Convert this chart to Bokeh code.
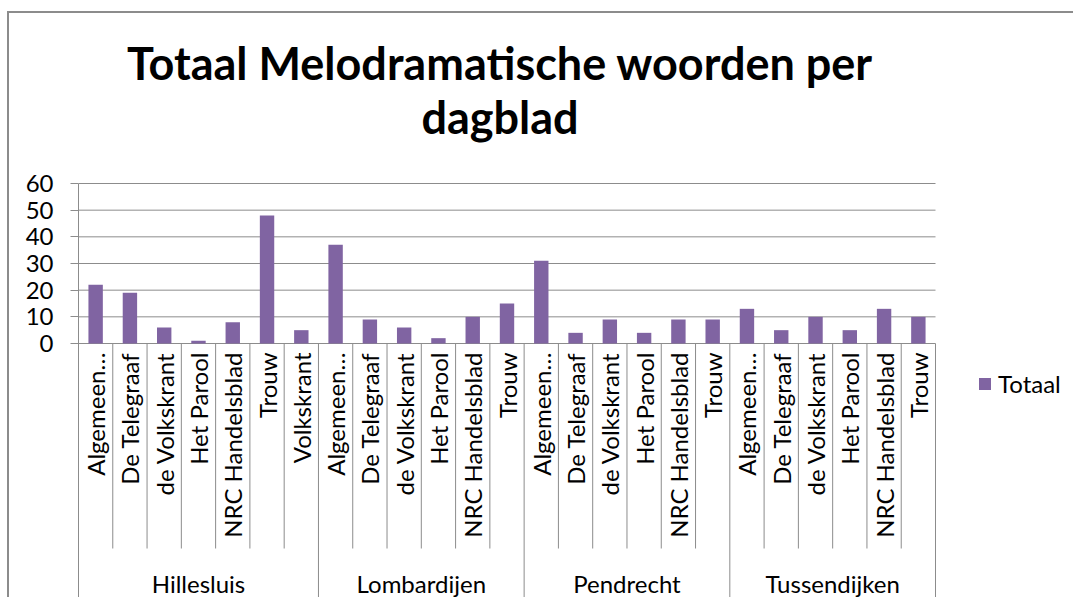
import math
from bokeh.plotting import figure
from bokeh.models import (Range1d, FixedTicker, Legend, LegendItem, ColumnDataSource)
from bokeh.core.properties import value
from bokeh.embed import file_html
from bokeh.resources import INLINE

# ---------------- data ----------------
groups = ["Hillesluis", "Lombardijen", "Pendrecht", "Tussendijken"]
hillesluis_papers = ["Algemeen…", "De Telegraaf", "de Volkskrant", "Het Parool",
                     "NRC Handelsblad", "Trouw", "Volkskrant"]
hillesluis_values = [22, 19, 6, 1, 8, 48, 5]
lombardijen_papers = ["Algemeen…", "De Telegraaf", "de Volkskrant", "Het Parool",
                      "NRC Handelsblad", "Trouw"]
lombardijen_values = [37, 9, 6, 2, 10, 15]
pendrecht_papers = ["Algemeen…", "De Telegraaf", "de Volkskrant", "Het Parool",
                    "NRC Handelsblad", "Trouw"]
pendrecht_values = [31, 4, 9, 4, 9, 9]
tussendijken_papers = ["Algemeen…", "De Telegraaf", "de Volkskrant", "Het Parool",
                       "NRC Handelsblad", "Trouw"]
tussendijken_values = [13, 5, 10, 5, 13, 10]
y_ticks = [0, 10, 20, 30, 40, 50, 60]
series_name = "Totaal"
title_lines = ["Totaal Melodramatische woorden per", "dagblad"]

papers_by_group = [hillesluis_papers, lombardijen_papers, pendrecht_papers, tussendijken_papers]
values_by_group = [hillesluis_values, lombardijen_values, pendrecht_values, tussendijken_values]

# ---------------- style / layout ----------------
FONT = "Lato"
FS = "24px"
TXT = "#000000"
GRID = "#8c8c8c"
BAR = "#8064A2"
W, H = 1066, 586
B_LEFT = 69
PLOT_TOP_PX = 170                 # pixels from figure top to the top gridline
PX_PER_UNIT = 160 / 60.0          # vertical pixels per value unit
CAT_PX = 857 / 25.0               # pixels per category slot
frame_h = H
frame_w = W - B_LEFT
y_max = y_ticks[-1]
y_top = y_max + PLOT_TOP_PX / PX_PER_UNIT
y_start = y_max - (frame_h - PLOT_TOP_PX) / PX_PER_UNIT
x_end = frame_w / CAT_PX
inner_sep_len = 205 / PX_PER_UNIT

# build category positions from the data
xs, vals, names, base = [], [], [], []
inner_sep, group_sep, group_mid = [], [], []
i = 0
for g, ps, vs in zip(groups, papers_by_group, values_by_group):
    start = i
    for pname, v in zip(ps, vs):
        xs.append(i + 0.5)
        vals.append(v)
        names.append(pname)
        base.append(0)
        i += 1
        if i - start < len(ps):
            inner_sep.append(i)
    group_sep.append(i)
    group_mid.append((start + i) / 2.0)
n_cat = i

src = ColumnDataSource(data=dict(x=xs, top=vals, paper=names, base=base))

p = figure(width=W, height=H, title=None,
           x_range=Range1d(0, x_end), y_range=Range1d(y_start, y_top),
           output_backend="svg", toolbar_location=None, x_axis_location=None,
           min_border_top=0, min_border_left=B_LEFT,
           min_border_right=0, min_border_bottom=0)
p.styles = {"border-left": "2px solid #8c8c8c", "border-top": "2px solid #8c8c8c",
            "margin-top": "11px", "margin-left": "7px"}
p.outline_line_color = None
p.background_fill_color = "white"
p.border_fill_color = "white"

# y axis (line limited to the value area and the category band below it)
tick = FixedTicker(ticks=y_ticks)
p.yaxis.ticker = tick
p.yaxis.bounds = (y_start, y_max)
p.ygrid.visible = False
p.xgrid.visible = False
p.yaxis.axis_line_color = GRID
p.yaxis.major_tick_line_color = GRID
p.yaxis.major_tick_out = 8
p.yaxis.major_tick_in = 0
p.yaxis.minor_tick_line_color = None
p.yaxis.major_label_standoff = 17
p.yaxis.major_label_text_font = FONT
p.yaxis.major_label_text_font_size = FS
p.yaxis.major_label_text_color = TXT

# horizontal gridlines over the category area
grid_src = ColumnDataSource(data=dict(y=y_ticks, x0=[0] * len(y_ticks),
                                      x1=[n_cat] * len(y_ticks)))
p.segment(x0="x0", y0="y", x1="x1", y1="y", source=grid_src, line_color=GRID, line_width=1)

# bars
bars = p.vbar(x="x", top="top", width=0.42, source=src, fill_color=BAR, line_color=None)

# separators between categories and groups
sep_src = ColumnDataSource(data=dict(x=inner_sep, y0=[0] * len(inner_sep),
                                     y1=[-inner_sep_len] * len(inner_sep)))
p.segment(x0="x", y0="y0", x1="x", y1="y1", source=sep_src, line_color=GRID, line_width=1)
gsep_src = ColumnDataSource(data=dict(x=group_sep, y0=[0] * len(group_sep),
                                      y1=[y_start] * len(group_sep)))
p.segment(x0="x", y0="y0", x1="x", y1="y1", source=gsep_src, line_color=GRID, line_width=1)

# category labels
p.text(x="x", y="base", text="paper", source=src, angle=math.pi / 2,
       text_align="right", text_baseline="middle", y_offset=9,
       text_font=value(FONT), text_font_size=FS, text_color=TXT)

# group labels
grp_src = ColumnDataSource(data=dict(x=group_mid, base=[0] * len(groups), name=groups))
p.text(x="x", y="base", text="name", source=grp_src, y_offset=240,
       text_align="center", text_baseline="middle",
       text_font=value(FONT), text_font_size=FS, text_color=TXT)

# legend, to the right of the category area
legend = Legend(items=[LegendItem(label=series_name, renderers=[bars])],
                location=(int(n_cat * CAT_PX) + 42, 201), margin=0, padding=0,
                border_line_color=None, background_fill_alpha=0,
                glyph_width=15, glyph_height=15, label_standoff=6,
                label_text_font=FONT, label_text_font_size=FS,
                label_text_color=TXT, label_text_baseline="middle")
p.add_layout(legend, "center")

# two-line chart title, centred above the category area
title_src = ColumnDataSource(data=dict(x=[n_cat / 2.0] * 2, y=[y_max] * 2,
                                       t=title_lines, dy=[-121, -67]))
p.text(x="x", y="y", text="t", source=title_src, x_offset=-7, y_offset="dy",
       text_align="center", text_baseline="alphabetic",
       text_font=value(FONT), text_font_style="bold", text_font_size="45px",
       text_color=TXT)

open("out.html", "w").write(file_html(p, INLINE))
